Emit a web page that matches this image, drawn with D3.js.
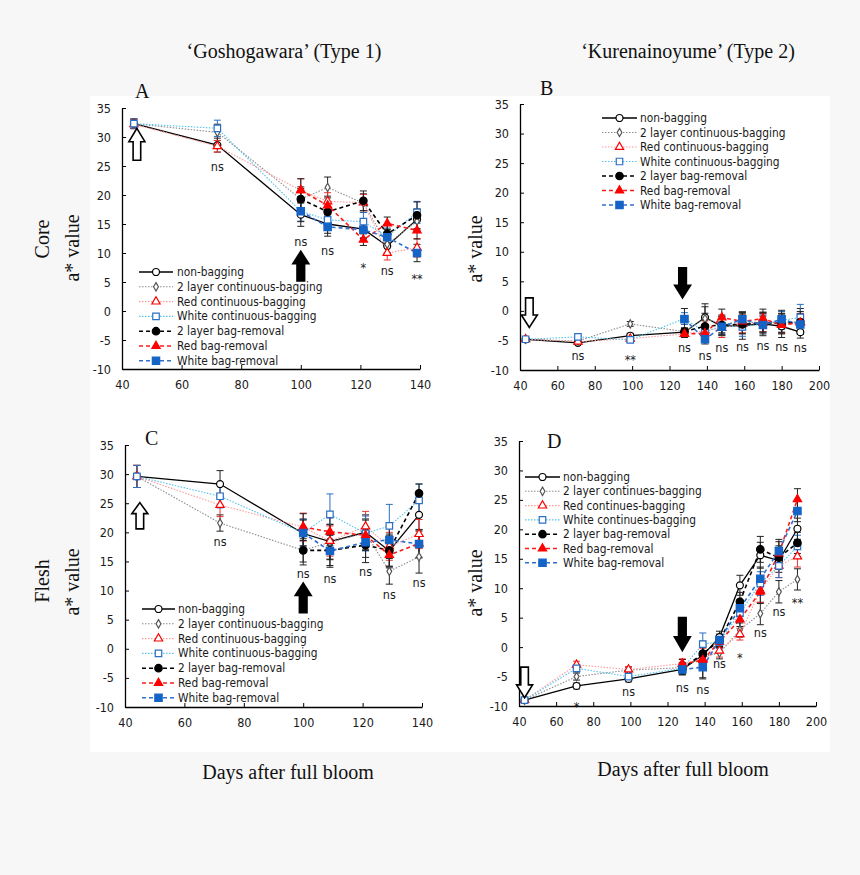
<!DOCTYPE html>
<html>
<head>
<meta charset="utf-8">
<script src="https://cdn.jsdelivr.net/npm/d3@7"></script>
<style>
  body { margin: 0; background: #f7f7f7; }
  .tick text, .small { font-family: "DejaVu Sans Condensed", "Liberation Sans", sans-serif; fill: #1a1a1a; }
  .serif { font-family: "Liberation Serif", "DejaVu Serif", serif; fill: #111; }
</style>
</head>
<body>
<svg id="fig" width="860" height="875"></svg>
<script>
// ---- data ----
var seriesNames = ['non-bagging', '2 layer continuous-bagging', 'Red continuous-bagging',
    'White continuous-bagging', '2 layer bag-removal', 'Red bag-removal', 'White bag-removal'];
var seriesNamesD = ['non-bagging', '2 layer continues-bagging', 'Red continues-bagging',
    'White continues-bagging', '2 layer bag-removal', 'Red bag-removal', 'White bag-removal'];

var daysType1 = [44, 72, 100, 109, 121, 129, 139];
var daysType2 = [43, 71, 99, 128, 139, 148, 159, 170, 180, 190];

var yTicks = [-10, -5, 0, 5, 10, 15, 20, 25, 30, 35];
var xTicksType1 = [40, 60, 80, 100, 120, 140];
var xTicksType2 = [40, 60, 80, 100, 120, 140, 160, 180, 200];

// A: Goshogawara core
var coreA = [
    [32.3, 28.6, 16.6, 15.0, 14.1, 11.2, 15.8],
    [32.3, 30.8, 19.3, 21.3, 18.6, 11.5, 15.5],
    [32.2, 28.4, 20.8, 18.9, 18.7, 10.0, 10.9],
    [32.3, 31.5, 17.2, 15.7, 15.4, 12.8, 17.0],
    [null, null, 19.3, 17.1, 19.0, 13.3, 16.5],
    [null, null, 20.8, 18.2, 12.3, 15.1, 13.9],
    [null, null, 17.2, 14.5, 14.0, 12.7, 10.0]
];
var coreAErr = [
    [0.8, 1.2, 2.0, 1.6, 1.5, 1.4, 1.8],
    [0.8, 1.4, 1.8, 1.8, 1.6, 1.5, 1.9],
    [0.8, 1.0, 2.0, 1.5, 1.4, 1.2, 1.6],
    [0.8, 1.4, 1.7, 1.6, 1.6, 1.5, 1.9],
    [0, 0, 2.1, 1.7, 1.7, 1.6, 2.3],
    [0, 0, 2.0, 1.6, 1.0, 1.1, 1.5],
    [0, 0, 1.8, 1.6, 1.5, 1.4, 1.5]
];
var sigDaysA = [72, 100, 109, 121, 129, 139];
var sigTextA = ['ns', 'ns', 'ns', '*', 'ns', '**'];
var sigYA = [25.0, 11.9, 10.5, 8.4, 6.9, 6.4];

// B: Kurenainoyume core
var coreB = [
    [-4.8, -5.4, -4.2, -3.6, -1.1, -2.6, -2.5, -2.2, -2.6, -3.6],
    [-4.8, -5.1, -2.2, -3.5, -1.3, -2.2, -2.0, -1.9, -2.0, -1.8],
    [-4.8, -5.2, -4.7, -3.9, -3.3, -2.9, -2.2, -2.0, -2.3, -1.9],
    [-4.8, -4.4, -4.9, -1.3, -3.6, -2.5, -2.7, -2.2, -1.6, -1.1],
    [null, null, null, -3.5, -2.6, -2.4, -2.3, -2.0, -2.1, -1.9],
    [null, null, null, -3.9, -3.8, -1.1, -1.8, -1.3, -2.4, -2.0],
    [null, null, null, -1.4, -4.8, -2.7, -1.4, -2.4, -1.4, -2.3]
];
var coreBErr = [
    [0.3, 0.3, 0.4, 0.6, 2.3, 1.6, 2.3, 2.0, 1.9, 1.0],
    [0.3, 0.3, 0.4, 0.6, 2.0, 1.5, 1.8, 1.6, 1.6, 2.2],
    [0.3, 0.3, 0.4, 0.6, 1.6, 1.6, 1.5, 1.5, 1.5, 1.5],
    [0.3, 0.3, 0.4, 1.0, 1.3, 1.5, 1.6, 1.5, 1.5, 2.2],
    [0, 0, 0, 0.6, 2.2, 1.5, 1.6, 1.6, 1.6, 1.8],
    [0, 0, 0, 0.6, 1.4, 1.4, 1.4, 1.6, 1.5, 1.5],
    [0, 0, 0, 1.8, 0.8, 1.4, 1.2, 1.5, 1.5, 1.5]
];
var sigDaysB = [71, 99, 128, 139, 148, 159, 170, 180, 190];
var sigTextB = ['ns', '**', 'ns', 'ns', 'ns', 'ns', 'ns', 'ns', 'ns'];
var sigYB = [-7.6, -7.4, -6.2, -7.5, -6.2, -6.1, -5.9, -6.1, -6.2];

// C: Goshogawara flesh
var fleshC = [
    [29.6, 28.3, 19.8, 18.4, 20.0, 16.8, 23.0],
    [29.6, 21.6, 16.9, 18.3, 19.9, 13.3, 15.8],
    [29.6, 24.7, 20.9, 18.5, 21.0, 17.6, 19.7],
    [29.6, 26.2, 19.9, 23.1, 19.8, 21.1, 25.5],
    [null, null, 16.9, 16.9, 17.8, 16.9, 26.7],
    [null, null, 20.9, 20.1, 19.5, 16.1, 18.1],
    [null, null, 19.9, 16.8, 18.3, 18.7, 18.0]
];
var fleshCErr = [
    [1.9, 2.3, 2.5, 3.0, 3.0, 2.6, 2.8],
    [1.9, 1.4, 2.0, 3.0, 2.4, 2.2, 2.8],
    [1.9, 2.0, 2.4, 2.6, 2.6, 2.4, 2.5],
    [1.9, 2.0, 2.3, 3.5, 3.0, 3.7, 2.8],
    [0, 0, 2.5, 2.6, 3.0, 2.8, 1.6],
    [0, 0, 2.3, 2.4, 2.6, 2.2, 2.4],
    [0, 0, 2.2, 2.8, 2.6, 2.4, 2.4]
];
var sigDaysC = [72, 100, 109, 121, 129, 139];
var sigTextC = ['ns', 'ns', 'ns', 'ns', 'ns', 'ns'];
var sigYC = [18.4, 12.9, 12.1, 13.2, 9.4, 11.3];

// D: Kurenainoyume flesh
var fleshD = [
    [-9.0, -6.6, -5.4, -3.8, -1.4, 1.7, 10.5, 15.6, 14.7, 20.1],
    [-9.0, -5.0, -3.9, -3.5, -1.6, -1.0, 2.9, 5.7, 9.4, 11.5],
    [-9.0, -3.0, -3.8, -2.8, -2.0, -0.6, 2.2, 9.6, 13.8, 15.4],
    [-9.0, -3.6, -5.0, -3.6, 0.5, 0.9, 5.8, 10.8, 13.8, 17.1],
    [null, null, null, -3.7, -1.1, 1.1, 7.7, 16.6, 15.2, 17.7],
    [null, null, null, -2.9, -2.2, 0.9, 4.7, 9.4, 15.9, 25.1],
    [null, null, null, -3.8, -3.4, 1.2, 6.6, 11.6, 16.3, 23.1]
];
var fleshDErr = [
    [0.4, 0.5, 0.5, 0.9, 1.6, 1.0, 1.7, 2.2, 2.0, 1.8],
    [0.4, 0.6, 0.5, 0.9, 1.8, 1.0, 1.2, 1.9, 1.9, 1.8],
    [0.4, 0.6, 0.5, 0.8, 1.8, 1.1, 1.0, 2.0, 2.0, 1.8],
    [0.4, 0.6, 0.5, 0.9, 1.9, 1.1, 1.5, 2.0, 2.0, 1.9],
    [0, 0, 0, 0.9, 1.6, 1.0, 1.6, 2.2, 2.0, 1.8],
    [0, 0, 0, 0.8, 3.2, 1.0, 1.2, 2.0, 2.0, 1.8],
    [0, 0, 0, 0.9, 1.8, 1.0, 1.4, 2.0, 2.0, 1.8]
];
var sigDaysD = [71, 99, 128, 139, 148, 159, 170, 180, 190];
var sigTextD = ['*', 'ns', 'ns', 'ns', 'ns', '*', 'ns', 'ns', '**'];
var sigYD = [-9.2, -7.6, -6.8, -7.2, -2.8, -0.9, 2.4, 6.1, 8.5];

// ---- styles ----
var styles = [
    {line: '#000',    dash: null,      w: 1.3, sym: d3.symbolCircle,   size: 38, fill: '#fff',    stroke: '#000'},
    {line: '#8c8c8c', dash: '1.5,1.5', w: 1.1, sym: d3.symbolDiamond,  size: 20, fill: '#fff',    stroke: '#555'},
    {line: '#ff9a9a', dash: '1.5,1.5', w: 1.1, sym: d3.symbolTriangle, size: 30, fill: '#fff',    stroke: '#f00'},
    {line: '#55c2ee', dash: '1.5,1.5', w: 1.1, sym: d3.symbolSquare,   size: 42, fill: '#fff',    stroke: '#2a6fc4'},
    {line: '#000',    dash: '4,3',     w: 1.6, sym: d3.symbolCircle,   size: 44, fill: '#000',    stroke: '#000'},
    {line: '#ff1a1a', dash: '4,3',     w: 1.6, sym: d3.symbolTriangle, size: 30, fill: '#f00',    stroke: '#f00'},
    {line: '#2f6fd0', dash: '4,3',     w: 1.6, sym: d3.symbolSquare,   size: 54, fill: '#1464c8', stroke: '#1464c8'}
];

var svg = d3.select('#fig');
svg.append('rect').attr('width', 860).attr('height', 875).attr('fill', '#f7f7f7');
svg.append('rect').attr('x', 90).attr('y', 96).attr('width', 740).attr('height', 656).attr('fill', '#fff');

function arrowPath(cx, yTail, yTip) {
    var dir = yTip < yTail ? -1 : 1;
    var len = Math.abs(yTip - yTail);
    var head = len * 0.42, hw = 8, sw = 3.8;
    var yNeck = yTip - dir * head;
    return 'M' + cx + ',' + yTip +
        'L' + (cx + hw) + ',' + yNeck +
        'L' + (cx + sw) + ',' + yNeck +
        'L' + (cx + sw) + ',' + yTail +
        'L' + (cx - sw) + ',' + yTail +
        'L' + (cx - sw) + ',' + yNeck +
        'L' + (cx - hw) + ',' + yNeck + 'Z';
}

function drawPanel(cfg) {
    var x = d3.scaleLinear().domain(cfg.xDomain).range(cfg.xRange);
    var y = d3.scaleLinear().domain([-10, 35]).range(cfg.yRange);
    var g = svg.append('g');

    var yAxis = g.append('g')
        .attr('transform', 'translate(' + cfg.xRange[0] + ',0)')
        .call(d3.axisLeft(y).tickValues(yTicks).tickFormat(String)
            .tickSizeInner(-4).tickSizeOuter(0).tickPadding(11));
    var xAxis = g.append('g')
        .attr('transform', 'translate(0,' + cfg.yRange[0] + ')')
        .call(d3.axisBottom(x).tickValues(cfg.xTicks).tickFormat(String)
            .tickSizeInner(-4).tickSizeOuter(0).tickPadding(11));
    [yAxis, xAxis].forEach(function(a) {
        a.select('.domain').attr('stroke', '#000').attr('stroke-width', 1.3);
        a.selectAll('.tick line').attr('stroke', '#000').attr('stroke-width', 1);
        a.selectAll('.tick text').style('font-size', '12.5px');
    });

    var line = d3.line()
        .defined(function(d) { return d[1] !== null; })
        .x(function(d) { return x(d[0]); })
        .y(function(d) { return y(d[1]); });

    cfg.values.forEach(function(vals, si) {
        var st = styles[si];
        var pts = vals.map(function(v, i) { return [cfg.days[i], v]; });
        g.append('path')
            .datum(pts)
            .attr('d', line)
            .attr('fill', 'none')
            .attr('stroke', st.line)
            .attr('stroke-width', st.w)
            .attr('stroke-dasharray', st.dash);
    });

    cfg.values.forEach(function(vals, si) {
        vals.forEach(function(v, i) {
            if (v === null) return;
            var e = cfg.errors[si][i];
            var cx = x(cfg.days[i]);
            var col = si === 2 ? '#e33' : (si === 3 ? '#2a6fc4' : '#222');
            g.append('line').attr('x1', cx).attr('x2', cx)
                .attr('y1', y(v - e)).attr('y2', y(v + e))
                .attr('stroke', col).attr('stroke-width', 1);
            [v - e, v + e].forEach(function(ev) {
                g.append('line').attr('x1', cx - 3.5).attr('x2', cx + 3.5)
                    .attr('y1', y(ev)).attr('y2', y(ev))
                    .attr('stroke', col).attr('stroke-width', 1);
            });
        });
    });

    cfg.values.forEach(function(vals, si) {
        var st = styles[si];
        var sym = d3.symbol().type(st.sym).size(st.size);
        vals.forEach(function(v, i) {
            if (v === null) return;
            g.append('path')
                .attr('d', sym)
                .attr('transform', 'translate(' + x(cfg.days[i]) + ',' + y(v) + ')')
                .attr('fill', st.fill)
                .attr('stroke', st.stroke)
                .attr('stroke-width', 1.2);
        });
    });

    // significance
    cfg.sigDays.forEach(function(d, i) {
        var star = cfg.sigText[i].indexOf('*') >= 0;
        g.append('text')
            .attr('class', 'small')
            .attr('x', x(d))
            .attr('y', y(cfg.sigY[i]) + (star ? 5 : 0))
            .attr('text-anchor', 'middle')
            .attr('dominant-baseline', 'central')
            .style('font-size', '12.5px')
            .text(cfg.sigText[i]);
    });

    // arrows
    cfg.arrows.forEach(function(a) {
        g.append('path')
            .attr('d', arrowPath(x(a.day), y(a.tail), y(a.tip)))
            .attr('fill', a.filled ? '#000' : '#fff')
            .attr('stroke', '#000')
            .attr('stroke-width', 1.6)
            .attr('stroke-linejoin', 'miter');
    });

    // legend
    var lg = cfg.legend;
    cfg.names.forEach(function(name, si) {
        var st = styles[si];
        var ly = lg.y + si * lg.step;
        g.append('line')
            .attr('x1', lg.x0).attr('x2', lg.x1).attr('y1', ly).attr('y2', ly)
            .attr('stroke', st.line).attr('stroke-width', st.w)
            .attr('stroke-dasharray', st.dash);
        g.append('path')
            .attr('d', d3.symbol().type(st.sym).size(st.size))
            .attr('transform', 'translate(' + (lg.x0 + lg.x1) / 2 + ',' + ly + ')')
            .attr('fill', st.fill).attr('stroke', st.stroke).attr('stroke-width', 1.2);
        g.append('text')
            .attr('class', 'small')
            .attr('x', lg.tx).attr('y', ly)
            .attr('dominant-baseline', 'central')
            .style('font-size', '11.8px')
            .text(name);
    });

    g.append('text').attr('class', 'serif')
        .attr('x', cfg.letter[0]).attr('y', cfg.letter[1])
        .style('font-size', '20px').text(cfg.letter[2]);
}

drawPanel({
    xDomain: [40, 140], xRange: [122, 420], yRange: [369, 108], xTicks: xTicksType1,
    days: daysType1, values: coreA, errors: coreAErr, names: seriesNames,
    sigDays: sigDaysA, sigText: sigTextA, sigY: sigYA,
    arrows: [{day: 45, tail: 26, tip: 31.5, filled: false}, {day: 100, tail: 5.2, tip: 10.3, filled: true}],
    legend: {x0: 139, x1: 173, tx: 177, y: 272, step: 14.8},
    letter: [135, 98, 'A']
});
drawPanel({
    xDomain: [40, 200], xRange: [520, 819], yRange: [370, 104], xTicks: xTicksType2,
    days: daysType2, values: coreB, errors: coreBErr, names: seriesNames,
    sigDays: sigDaysB, sigText: sigTextB, sigY: sigYB,
    arrows: [{day: 45, tail: 2.2, tip: -2.8, filled: false}, {day: 127, tail: 7.3, tip: 2.2, filled: true}],
    legend: {x0: 602, x1: 637, tx: 640, y: 118, step: 14.5},
    letter: [540, 95, 'B']
});
drawPanel({
    xDomain: [40, 140], xRange: [125, 422], yRange: [707, 445], xTicks: xTicksType1,
    days: daysType1, values: fleshC, errors: fleshCErr, names: seriesNames,
    sigDays: sigDaysC, sigText: sigTextC, sigY: sigYC,
    arrows: [{day: 45, tail: 20.6, tip: 25.1, filled: false}, {day: 100, tail: 6.2, tip: 11.3, filled: true}],
    legend: {x0: 142, x1: 175, tx: 178, y: 609, step: 14.8},
    letter: [145, 445, 'C']
});
drawPanel({
    xDomain: [40, 200], xRange: [519, 816], yRange: [706, 441], xTicks: xTicksType2,
    days: daysType2, values: fleshD, errors: fleshDErr, names: seriesNamesD,
    sigDays: sigDaysD, sigText: sigTextD, sigY: sigYD,
    arrows: [{day: 43, tail: -3.4, tip: -8.6, filled: false}, {day: 128, tail: 5.0, tip: -0.6, filled: true}],
    legend: {x0: 525, x1: 560, tx: 563, y: 477, step: 14.3},
    letter: [547, 448, 'D']
});

// titles and axis labels
function serifText(x, y, txt, rot) {
    var t = svg.append('text').attr('class', 'serif')
        .attr('text-anchor', 'middle')
        .style('font-size', '20px')
        .text(txt);
    if (rot) t.attr('transform', 'translate(' + x + ',' + y + ') rotate(-90)');
    else t.attr('x', x).attr('y', y);
}
serifText(284, 58, '\u2018Goshogawara\u2019 (Type 1)');
serifText(688, 58, '\u2018Kurenainoyume\u2019 (Type 2)');
serifText(49, 239, 'Core', true);
serifText(79, 248, 'a* value', true);
serifText(49, 581, 'Flesh', true);
serifText(79, 582, 'a* value', true);
serifText(482, 249, 'a* value', true);
serifText(482, 583, 'a* value', true);
serifText(288, 779, 'Days after full bloom');
serifText(683, 776, 'Days after full bloom');
</script>
</body>
</html>
